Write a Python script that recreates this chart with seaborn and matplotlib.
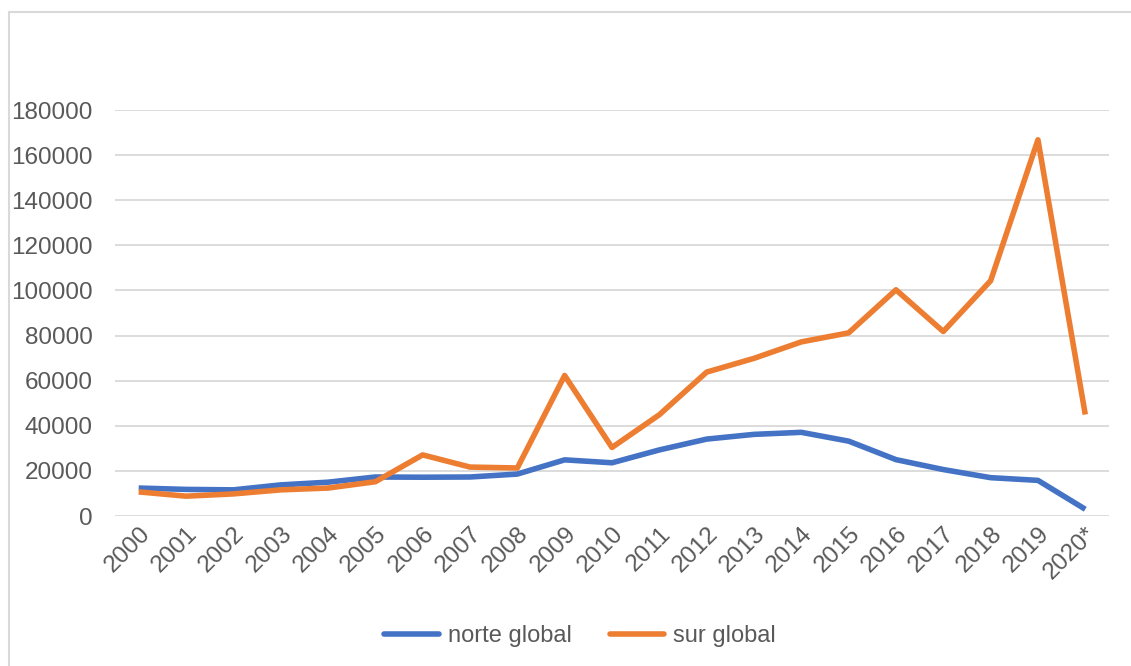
import matplotlib
matplotlib.use("Agg")
import matplotlib.pyplot as plt
import pandas as pd
import seaborn as sns
from matplotlib.lines import Line2D

years = ["2000", "2001", "2002", "2003", "2004", "2005", "2006", "2007", "2008", "2009",
         "2010", "2011", "2012", "2013", "2014", "2015", "2016", "2017", "2018", "2019", "2020*"]
norte_global = [12400, 11800, 11600, 13800, 15000, 17300, 17200, 17300, 18600, 24900,
                23600, 29300, 34100, 36200, 37100, 33200, 25000, 20600, 17000, 15800, 3000]
sur_global = [10700, 8800, 9800, 11600, 12400, 15200, 27100, 21700, 21300, 62300,
              30400, 44900, 63800, 69900, 77200, 81200, 100300, 81800, 104300, 166800, 45000]
y_ticks = [0, 20000, 40000, 60000, 80000, 100000, 120000, 140000, 160000, 180000]

colors = {"norte global": "#4472C4", "sur global": "#ED7D31"}
text_color = "#595959"

df = pd.DataFrame({"year": years, "norte global": norte_global, "sur global": sur_global})
long_df = df.melt(id_vars="year", var_name="serie", value_name="valor")
long_df["pos"] = long_df["year"].map({y: i for i, y in enumerate(years)})

sns.set_theme(style="white")
plt.rcParams["font.family"] = ["Liberation Sans", "DejaVu Sans"]

fig = plt.figure(figsize=(11.31, 6.66), dpi=100)
ax = fig.add_axes([0.1017, 0.2252, 0.8788, 0.6096])

sns.lineplot(data=long_df, x="pos", y="valor", hue="serie", palette=colors,
             linewidth=4.0, legend=False, ax=ax, sort=False)
for line in ax.get_lines():
    line.set_solid_joinstyle("round")
    line.set_solid_capstyle("butt")

ax.set_xlim(-0.5, len(years) - 0.5)
ax.set_ylim(0, 180000)
ax.set_yticks(y_ticks)
ax.set_yticklabels([str(v) for v in y_ticks], fontsize=17.5, color=text_color)
ax.set_xticks(range(len(years)))
ax.set_xticklabels(years, rotation=45, ha="right", rotation_mode="anchor",
                   fontsize=17.5, color=text_color)
ax.tick_params(axis="both", length=0)
ax.tick_params(axis="x", pad=5)
ax.tick_params(axis="y", pad=16)
ax.set_xlabel("")
ax.set_ylabel("")
ax.yaxis.grid(True, color="#D9D9D9", linewidth=1.3)
ax.set_axisbelow(True)
for s in ax.spines.values():
    s.set_visible(False)

# outer chart frame (top and left visible)
fig.add_artist(Line2D([9 / 1131, 1.0], [1 - 12 / 666, 1 - 12 / 666],
                      color="#D9D9D9", linewidth=1.5, transform=fig.transFigure))
fig.add_artist(Line2D([9 / 1131, 9 / 1131], [0, 1 - 12 / 666],
                      color="#D9D9D9", linewidth=1.5, transform=fig.transFigure))

handles = [Line2D([0], [0], color=colors[k], linewidth=4.0) for k in colors]
fig.legend(handles, list(colors.keys()), loc="center", bbox_to_anchor=(0.513, 0.045),
           ncol=2, frameon=False, fontsize=17, labelcolor=text_color,
           handlelength=2.3, handletextpad=0.4, columnspacing=1.6)

fig.savefig("out.png", dpi=100)
